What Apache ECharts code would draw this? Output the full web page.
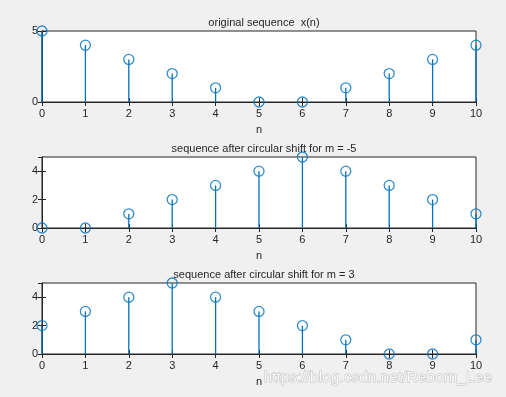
<!DOCTYPE html>
<html>
<head>
<meta charset="utf-8">
<script src="https://cdn.jsdelivr.net/npm/echarts@6/dist/echarts.min.js"></script>
<style>
html,body{margin:0;padding:0;background:#f0f0f0;}
#chart{width:506px;height:397px;}
</style>
</head>
<body>
<div id="chart"></div>
<script>
var n = [0, 1, 2, 3, 4, 5, 6, 7, 8, 9, 10];
var xOriginal = [5, 4, 3, 2, 1, 0, 0, 1, 2, 3, 4];
var xShiftM5 = [0, 0, 1, 2, 3, 4, 5, 4, 3, 2, 1];
var xShift3 = [2, 3, 4, 5, 4, 3, 2, 1, 0, 0, 1];
var titles = ['original sequence  x(n)', 'sequence after circular shift for m = -5', 'sequence after circular shift for m = 3'];
var yTicks = [5, 2, 2];

var stemColor = '#0072BD';
var axisColor = '#262626';
var font = 'Liberation Sans, Arial, sans-serif';
var tops = [31, 157, 283];

var chart = echarts.init(document.getElementById('chart'));
var grids = [], xAxes = [], yAxes = [], series = [], title = [];

// stem line from baseline up to the value
function stem(params, api) {
    var p0 = api.coord([api.value(0), 0]);
    var p1 = api.coord([api.value(0), api.value(1)]);
    return {type: 'line', shape: {x1: p0[0], y1: p0[1], x2: p1[0], y2: p1[1]},
        style: {stroke: stemColor, lineWidth: 1.3}};
}

[xOriginal, xShiftM5, xShift3].forEach(function (vals, i) {
    grids.push({left: 42, right: 30, top: tops[i], height: 71, show: true,
        backgroundColor: '#fff', borderColor: axisColor, borderWidth: 1});
    title.push({text: titles[i], left: 259, top: tops[i] - 19, textAlign: 'center',
        textStyle: {fontSize: 11, fontWeight: 'normal', color: axisColor, fontFamily: font}});
    // bottom x axis
    xAxes.push({gridIndex: i, type: 'value', min: 0, max: 10, interval: 1,
        name: 'n', nameLocation: 'middle', nameGap: 22,
        nameTextStyle: {fontSize: 11, color: axisColor, fontFamily: font},
        axisLine: {lineStyle: {color: axisColor}},
        axisTick: {inside: true, length: 4, lineStyle: {color: axisColor}},
        axisLabel: {fontSize: 11, color: axisColor, fontFamily: font, margin: 6},
        splitLine: {show: false}});
    // top x axis (ticks only)
    xAxes.push({gridIndex: i, type: 'value', position: 'top', min: 0, max: 10, interval: 1,
        axisLine: {lineStyle: {color: axisColor}},
        axisTick: {inside: true, length: 4, lineStyle: {color: axisColor}},
        axisLabel: {show: false}, splitLine: {show: false}});
    // left y axis
    yAxes.push({gridIndex: i, type: 'value', min: 0, max: 5, interval: yTicks[i],
        axisLine: {show: true, lineStyle: {color: axisColor}},
        axisTick: {show: true, inside: true, length: 4, lineStyle: {color: axisColor}},
        axisLabel: {fontSize: 11, color: axisColor, fontFamily: font, margin: 4, showMaxLabel: i === 0},
        splitLine: {show: false}});
    // right y axis (ticks only)
    yAxes.push({gridIndex: i, type: 'value', position: 'right', min: 0, max: 5, interval: yTicks[i],
        axisLine: {show: true, lineStyle: {color: axisColor}},
        axisTick: {show: true, inside: true, length: 4, lineStyle: {color: axisColor}},
        axisLabel: {show: false}, splitLine: {show: false}});

    var pts = n.map(function (x, k) { return [x, vals[k]]; });
    series.push({type: 'custom', xAxisIndex: 2 * i, yAxisIndex: 2 * i, data: pts,
        renderItem: stem, silent: true, clip: false, z: 4});
    series.push({type: 'scatter', xAxisIndex: 2 * i, yAxisIndex: 2 * i, data: pts,
        symbol: 'circle', symbolSize: 10, clip: false,
        itemStyle: {color: 'rgba(255,255,255,0)', borderColor: stemColor, borderWidth: 1.3}, z: 5});
});

chart.setOption({
    backgroundColor: '#f0f0f0',
    animation: false,
    title: title,
    grid: grids,
    xAxis: xAxes,
    yAxis: yAxes,
    series: series,
    graphic: [{type: 'text', left: 263, top: 369, silent: true, z: 10,
        style: {text: 'https://blog.csdn.net/Reborn_Lee', font: '15.5px ' + font,
            fill: 'rgba(255,255,255,0.85)', stroke: 'rgba(160,160,160,0.6)', lineWidth: 1}}]
});
</script>
</body>
</html>
